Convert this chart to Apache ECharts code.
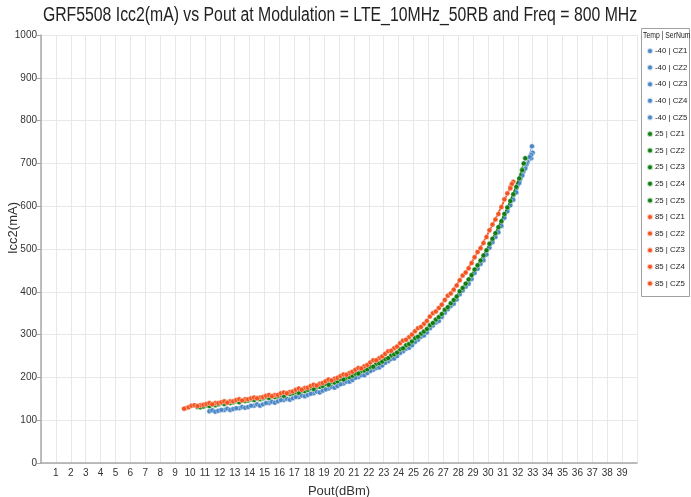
<!DOCTYPE html>
<html>
<head>
<meta charset="utf-8">
<script src="https://cdn.jsdelivr.net/npm/echarts@6/dist/echarts.min.js"></script>
<style>
  html, body { margin: 0; padding: 0; background: #fff; }
  #chart { width: 691px; height: 497px; }
</style>
</head>
<body>
<div id="chart"></div>
<script>
// Icc2 (mA) against Pout (dBm), one sweep per temperature / serial number.
// Each point is [Pout, Icc2].
const m40_CZ1 = [[11.3,121],[12.3,124],[13.3,128],[14.3,134],[15.3,140],[16.3,147],[17.3,154],[18.3,163],[19.3,174],[20.3,186],[21.3,201],[22.3,218],[23.3,238],[24.3,261],[25.3,288],[26.3,321],[27.3,359],[28.3,403],[29.3,454],[30.3,516],[31.3,588],[32.3,672],[32.95,740]];
const m40_CZ2 = [[11.5,123],[12.5,127],[13.5,131],[14.5,137],[15.5,143],[16.5,150],[17.5,158],[18.5,167],[19.5,178],[20.5,190],[21.5,205],[22.5,222],[23.5,243],[24.5,267],[25.5,295],[26.5,328],[27.5,367],[28.5,412],[29.5,465],[30.5,528],[31.5,602],[32.5,688],[33.0,725]];
const m40_CZ3 = [[11.7,120],[12.7,124],[13.7,129],[14.7,134],[15.7,141],[16.7,148],[17.7,156],[18.7,165],[19.7,176],[20.7,190],[21.7,205],[22.7,223],[23.7,244],[24.7,269],[25.7,298],[26.7,332],[27.7,372],[28.7,419],[29.7,474],[30.7,539],[31.7,615],[32.9,712]];
const m40_CZ4 = [[11.9,122],[12.9,126],[13.9,131],[14.9,137],[15.9,144],[16.9,151],[17.9,159],[18.9,169],[19.9,180],[20.9,194],[21.9,210],[22.9,228],[23.9,250],[24.9,275],[25.9,305],[26.9,341],[27.9,382],[28.9,430],[29.9,487],[30.9,554],[31.9,632],[32.9,720]];
const m40_CZ5 = [[12.1,124],[13.1,128],[14.1,134],[15.1,140],[16.1,147],[17.1,154],[18.1,162],[19.1,172],[20.1,184],[21.1,199],[22.1,215],[23.1,234],[24.1,257],[25.1,283],[26.1,315],[27.1,351],[28.1,394],[29.1,444],[30.1,503],[31.1,573],[32.1,654],[32.8,715]];

const p25_CZ1 = [[10.5,131],[11.5,137],[12.5,142],[13.5,146],[14.5,151],[15.5,156],[16.5,162],[17.5,169],[18.5,178],[19.5,189],[20.5,200],[21.5,215],[22.5,232],[23.5,251],[24.5,275],[25.5,302],[26.5,335],[27.5,373],[28.5,419],[29.5,473],[30.5,537],[31.5,612],[32.5,712]];
const p25_CZ2 = [[10.7,130],[11.7,135],[12.7,140],[13.7,145],[14.7,149],[15.7,154],[16.7,161],[17.7,168],[18.7,178],[19.7,188],[20.7,201],[21.7,216],[22.7,233],[23.7,254],[24.7,278],[25.7,307],[26.7,341],[27.7,381],[28.7,429],[29.7,485],[30.7,551],[31.7,628],[32.3,686]];
const p25_CZ3 = [[10.9,132],[11.9,137],[12.9,142],[13.9,146],[14.9,151],[15.9,156],[16.9,163],[17.9,171],[18.9,180],[19.9,191],[20.9,204],[21.9,219],[22.9,237],[23.9,258],[24.9,284],[25.9,313],[26.9,348],[27.9,389],[28.9,439],[29.9,497],[30.9,565],[31.9,645],[32.4,700]];
const p25_CZ4 = [[11.1,135],[12.1,140],[13.1,145],[14.1,149],[15.1,154],[16.1,159],[17.1,166],[18.1,175],[19.1,185],[20.1,196],[21.1,209],[22.1,225],[23.1,243],[24.1,266],[25.1,292],[26.1,322],[27.1,358],[28.1,401],[29.1,452],[30.1,512],[31.1,582],[32.1,665]];
const p25_CZ5 = [[11.3,133],[12.3,138],[13.3,142],[14.3,147],[15.3,152],[16.3,157],[17.3,164],[18.3,173],[19.3,183],[20.3,195],[21.3,209],[22.3,225],[23.3,245],[24.3,268],[25.3,295],[26.3,327],[27.3,364],[28.3,409],[29.3,462],[30.3,524],[31.3,597],[32.3,684]];

const p85_CZ1 = [[9.7,128],[10.7,135],[11.7,140],[12.7,144],[13.7,149],[14.7,153],[15.7,159],[16.7,166],[17.7,175],[18.7,185],[19.7,197],[20.7,210],[21.7,226],[22.7,245],[23.7,268],[24.7,294],[25.7,325],[26.7,362],[27.7,405],[28.7,455],[29.7,514],[30.7,582],[31.7,657]];
const p85_CZ2 = [[9.9,130],[10.9,136],[11.9,140],[12.9,144],[13.9,149],[14.9,154],[15.9,159],[16.9,167],[17.9,176],[18.9,187],[19.9,199],[20.9,213],[21.9,229],[22.9,249],[23.9,272],[24.9,300],[25.9,332],[26.9,370],[27.9,415],[28.9,467],[29.9,528],[30.9,598],[31.5,645]];
const p85_CZ3 = [[10.1,134],[11.1,138],[12.1,142],[13.1,147],[14.1,151],[15.1,157],[16.1,163],[17.1,171],[18.1,180],[19.1,191],[20.1,203],[21.1,218],[22.1,235],[23.1,255],[24.1,280],[25.1,308],[26.1,342],[27.1,381],[28.1,427],[29.1,481],[30.1,544],[31.1,616],[31.6,652]];
const p85_CZ4 = [[10.3,135],[11.3,140],[12.3,144],[13.3,149],[14.3,153],[15.3,159],[16.3,165],[17.3,174],[18.3,183],[19.3,195],[20.3,207],[21.3,222],[22.3,240],[23.3,261],[24.3,286],[25.3,315],[26.3,350],[27.3,391],[28.3,438],[29.3,493],[30.3,557],[31.3,630]];
const p85_CZ5 = [[9.6,127],[10.5,133],[11.5,137],[12.5,141],[13.5,146],[14.5,151],[15.5,156],[16.5,163],[17.5,171],[18.5,181],[19.5,193],[20.5,206],[21.5,221],[22.5,240],[23.5,262],[24.5,288],[25.5,318],[26.5,354],[27.5,396],[28.5,445],[29.5,502],[30.5,569],[31.5,642]];

const temps = ['-40', '25', '85'];
const serials = ['CZ1', 'CZ2', 'CZ3', 'CZ4', 'CZ5'];
const sweeps = [
  [m40_CZ1, m40_CZ2, m40_CZ3, m40_CZ4, m40_CZ5],
  [p25_CZ1, p25_CZ2, p25_CZ3, p25_CZ4, p25_CZ5],
  [p85_CZ1, p85_CZ2, p85_CZ3, p85_CZ4, p85_CZ5]
];
const tempColors = ['#4a86c5', '#0f7d12', '#f4531f'];

const FONT = "'Liberation Sans', Arial, sans-serif";

const series = [];
temps.forEach((t, ti) => {
  serials.forEach((s, si) => {
    series.push({
      name: t + ' | ' + s,
      type: 'line',
      data: sweeps[ti][si],
      symbol: 'circle',
      symbolSize: 5,
      showSymbol: true,
      lineStyle: { width: 1, color: tempColors[ti], opacity: 0.8 },
      itemStyle: { color: tempColors[ti], borderColor: 'rgba(255,255,255,0.7)', borderWidth: 0.6 },
      emphasis: { disabled: true },
      z: 2 + ti
    });
  });
});

const chart = echarts.init(document.getElementById('chart'), null, { renderer: 'canvas' });
chart.setOption({
  animation: false,
  backgroundColor: '#ffffff',
  grid: { left: 41, right: 54, top: 35, bottom: 34, containLabel: false, outerBoundsMode: 'none' },
  xAxis: {
    type: 'value',
    min: 0, max: 40, interval: 1,
    name: 'Pout(dBm)',
    nameLocation: 'middle',
    nameGap: 22,
    nameTextStyle: { fontFamily: FONT, fontSize: 13, color: '#333' },
    axisLine: { show: true, lineStyle: { color: '#a8a8a8', width: 1.5 } },
    axisTick: { show: false },
    axisLabel: {
      fontFamily: FONT, fontSize: 10, color: '#333', margin: 5,
      formatter: v => (v === 0 || v === 40) ? '' : String(v)
    },
    splitLine: { show: true, lineStyle: { color: '#e8e8e8', width: 1 } }
  },
  yAxis: {
    type: 'value',
    min: 0, max: 1000, interval: 100,
    axisLine: { show: true, lineStyle: { color: '#a8a8a8', width: 1.5 } },
    axisTick: { show: true, length: 4, lineStyle: { color: '#a8a8a8' } },
    axisLabel: { fontFamily: FONT, fontSize: 10, color: '#333', margin: 4, formatter: v => String(v) },
    splitLine: { show: true, lineStyle: { color: '#e8e8e8', width: 1 } }
  },
  legend: {
    orient: 'vertical',
    left: 646,
    top: 46,
    icon: 'circle',
    itemWidth: 6,
    itemHeight: 6,
    itemGap: 6.6,
    padding: 0,
    selectedMode: false,
    textStyle: { fontFamily: FONT, fontSize: 7.8, color: '#222', lineHeight: 10, padding: [0, 0, 0, -3] },
    data: series.map(s => s.name)
  },
  graphic: [
    {
      type: 'text',
      x: 340,
      y: 5,
      scaleX: 0.79,
      style: {
        text: 'GRF5508 Icc2(mA) vs Pout at Modulation = LTE_10MHz_50RB and Freq = 800 MHz',
        fontFamily: FONT, fontSize: 20, fill: '#222',
        textAlign: 'center', textVerticalAlign: 'top'
      }
    },
    {
      type: 'text',
      x: 13,
      y: 228,
      rotation: Math.PI / 2,
      style: {
        text: 'Icc2(mA)',
        fontFamily: FONT, fontSize: 13, fill: '#333',
        textAlign: 'center', textVerticalAlign: 'middle'
      }
    },
    {
      type: 'rect',
      shape: { x: 641.5, y: 28.5, width: 48, height: 268 },
      style: { fill: 'none', stroke: '#a0a0a0', lineWidth: 1 },
      z: 100
    },
    {
      type: 'text',
      x: 643,
      y: 31,
      scaleX: 0.76,
      style: { text: 'Temp | SerNum', fontFamily: FONT, fontSize: 9, fill: '#222' },
      z: 101
    }
  ],
  series: series
});
</script>
</body>
</html>
